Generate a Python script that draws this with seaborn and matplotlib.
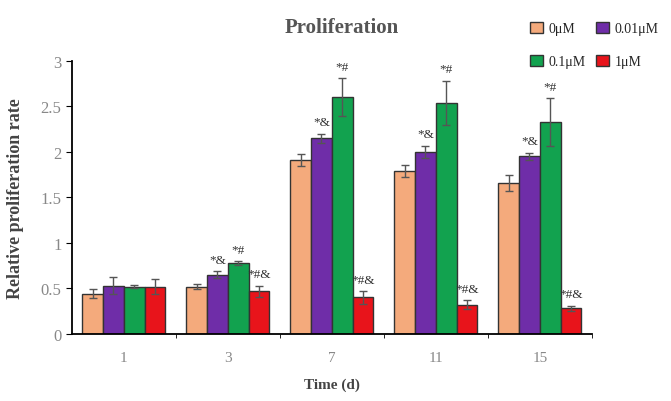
import pandas as pd
import numpy as np
import seaborn as sns
from matplotlib import pyplot as plt

days = ['1', '3', '7', '11', '15']
doses = ['0μM', '0.01μM', '0.1μM', '1μM']
colors = ['#F4AA7C', '#6F2DA8', '#12A24F', '#E8141B']

mean_0 = [0.44, 0.52, 1.91, 1.79, 1.66]
mean_001 = [0.53, 0.65, 2.15, 2.00, 1.95]
mean_01 = [0.52, 0.78, 2.60, 2.54, 2.33]
mean_1 = [0.52, 0.47, 0.40, 0.32, 0.28]

err_0 = [0.05, 0.03, 0.07, 0.07, 0.09]
err_001 = [0.09, 0.04, 0.05, 0.07, 0.04]
err_01 = [0.02, 0.02, 0.21, 0.24, 0.26]
err_1 = [0.08, 0.06, 0.07, 0.05, 0.03]

sig_001 = ['', '*&', '*&', '*&', '*&']
sig_01 = ['', '*#', '*#', '*#', '*#']
sig_1 = ['', '*#&', '*#&', '*#&', '*#&']
sig_0 = ['', '', '', '', '']

means = [mean_0, mean_001, mean_01, mean_1]
errs = [err_0, err_001, err_01, err_1]
sigs = [sig_0, sig_001, sig_01, sig_1]

rows = []
for dose, m, e, s in zip(doses, means, errs, sigs):
    for d, mv, ev, sv in zip(days, m, e, s):
        rows.append({'Time': d, 'Dose': dose, 'Rate': mv, 'Err': ev, 'Sig': sv})
df = pd.DataFrame(rows)

sns.set_style('ticks')
plt.rcParams['font.family'] = ['Liberation Serif', 'DejaVu Serif']

fig = plt.figure(figsize=(6.71, 4.02), dpi=100)
ax = fig.add_axes([0.107, 0.167, 0.775, 0.679])

sns.barplot(data=df, x='Time', y='Rate', hue='Dose', palette=colors,
            order=days, hue_order=doses, errorbar=None, width=0.8,
            saturation=1, edgecolor='#333333', linewidth=1.0, ax=ax, legend=False)

# error bars and significance marks, one container per dose
for cont, dose in zip(ax.containers, doses):
    sub = df[df['Dose'] == dose].set_index('Time').loc[days]
    for bar, (_, r) in zip(cont, sub.iterrows()):
        xc = bar.get_x() + bar.get_width() / 2
        ax.errorbar(xc, r['Rate'], yerr=r['Err'], color='#555555',
                    capsize=3, elinewidth=1, capthick=1)
        if r['Sig']:
            ax.text(xc, r['Rate'] + r['Err'] + 0.06, r['Sig'], ha='center',
                    va='bottom', fontsize=9.5, color='#333333')

ax.set_ylim(0, 3)
ax.set_xlim(-0.5, 4.5)
ax.set_yticks([0, 0.5, 1, 1.5, 2, 2.5, 3])
ax.set_yticklabels(['0', '0.5', '1', '1.5', '2', '2.5', '3'])
ax.set_xticks([0.5, 1.5, 2.5, 3.5, 4.5], minor=True)
ax.tick_params(axis='x', which='major', length=0, labelsize=11, pad=12)
ax.tick_params(axis='x', which='minor', length=3, color='black')
ax.tick_params(axis='y', length=4, labelsize=12, color='black')
for lab in ax.get_yticklabels() + ax.get_xticklabels():
    lab.set_color('#888888')
for sp in ['left', 'bottom']:
    ax.spines[sp].set_color('black')
    ax.spines[sp].set_linewidth(1.3)
sns.despine(ax=ax)

ax.set_xlabel('Time (d)', fontsize=11, fontweight='bold', color='#444444', labelpad=10)
ax.set_ylabel('Relative proliferation rate', fontsize=13, fontweight='bold',
              color='#444444', labelpad=12)
fig.text(0.51, 0.93, 'Proliferation', ha='center', va='center',
         fontsize=15, fontweight='bold', color='#555555')

handles = [plt.Rectangle((0, 0), 1, 1, facecolor=c, edgecolor='#333333') for c in colors]
order = [0, 2, 1, 3]
fig.legend([handles[i] for i in order], [doses[i] for i in order], ncol=2,
           loc='upper right', bbox_to_anchor=(1.0, 0.975),
           frameon=False, fontsize=10, handlelength=0.9, handleheight=0.9,
           columnspacing=0.8, handletextpad=0.4, labelspacing=1.4)

fig.savefig('out.png', dpi=100)
